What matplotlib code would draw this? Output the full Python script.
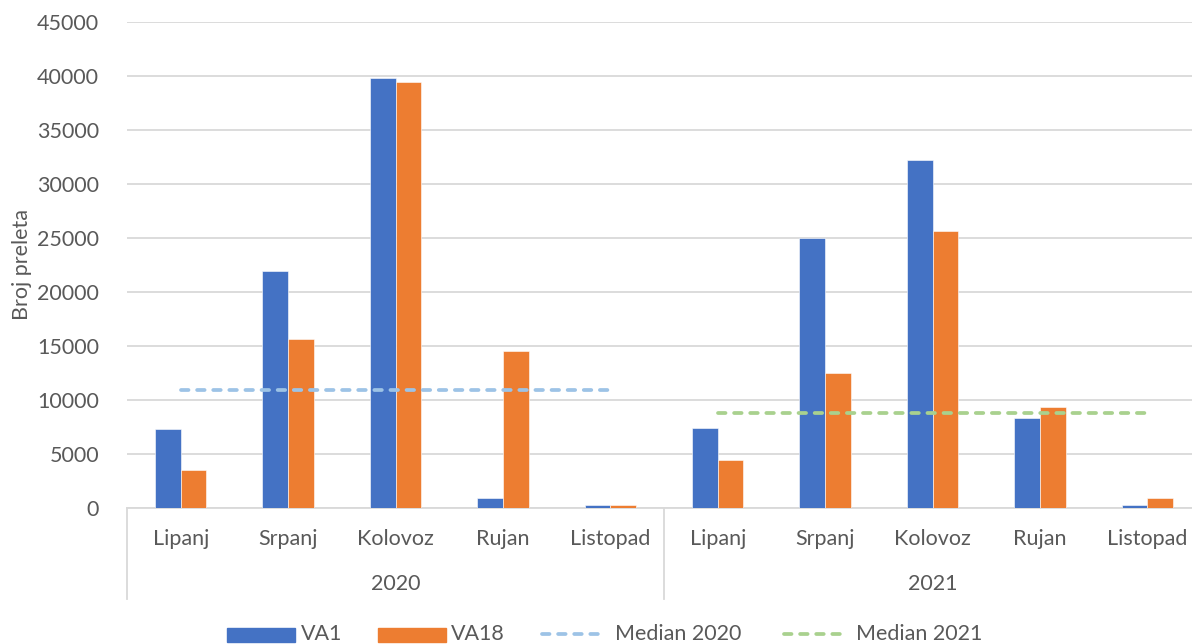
import numpy as np
import matplotlib
matplotlib.use("Agg")
import matplotlib.pyplot as plt
from matplotlib.patches import Rectangle
from matplotlib.lines import Line2D
from matplotlib.transforms import blended_transform_factory

# Monthly counts per site, June-October of 2020 and 2021
months = ["Lipanj", "Srpanj", "Kolovoz", "Rujan", "Listopad"]
years = ["2020", "2021"]
va1_2020 = [7350, 21950, 39800, 950, 250]
va18_2020 = [3550, 15650, 39450, 14500, 250]
va1_2021 = [7450, 25000, 32200, 8300, 250]
va18_2021 = [4450, 12500, 25650, 9350, 900]

va1 = va1_2020 + va1_2021
va18 = va18_2020 + va18_2021
median_2020 = float(np.median(va1_2020 + va18_2020))
median_2021 = float(np.median(va1_2021 + va18_2021))

BLUE = "#4472C4"
ORANGE = "#ED7D31"
MED20 = "#9DC3E6"
MED21 = "#A9D18E"
GRID = "#D9D9D9"
TXT = "#595959"
FONT = "Lato"
FS = 15.5

plt.rcParams["font.family"] = [FONT, "DejaVu Sans"]
plt.rcParams["lines.scale_dashes"] = False

W, H = 1192, 644
fig = plt.figure(figsize=(W / 100, H / 100), dpi=100)
ax = fig.add_axes([127 / W, (H - 508) / H, (1201 - 127) / W, (508 - 22) / H])

x = np.arange(len(va1))
bw = 0.24
ax.bar(x - bw / 2, va1, width=bw, color=BLUE, edgecolor="white", linewidth=0.4, zorder=3)
ax.bar(x + bw / 2, va18, width=bw, color=ORANGE, edgecolor="white", linewidth=0.4, zorder=3)

dash = (5.4, 6.2)
ax.plot(x[:5], [median_2020] * 5, color=MED20, lw=2.7, dashes=dash,
        solid_capstyle="round", dash_capstyle="round", zorder=4)
ax.plot(x[5:], [median_2021] * 5, color=MED21, lw=2.7, dashes=dash,
        solid_capstyle="round", dash_capstyle="round", zorder=4)

ax.set_xlim(-0.5, 9.5)
ax.set_ylim(0, 45000)
ax.set_yticks(np.arange(0, 45001, 5000))
ax.set_yticklabels([str(v) for v in range(0, 45001, 5000)], fontsize=FS, color=TXT)
ax.tick_params(axis="y", length=0, pad=20)
ax.yaxis.grid(True, color=GRID, lw=1.3, zorder=0)
ax.set_axisbelow(True)

ax.set_xticks(x)
ax.set_xticklabels(months * 2, fontsize=FS, color=TXT)
ax.tick_params(axis="x", length=0, pad=15)

for s in ["top", "right", "left"]:
    ax.spines[s].set_visible(False)
ax.spines["bottom"].set_color(GRID)
ax.spines["bottom"].set_linewidth(1.3)

ax.set_ylabel("Broj preleta", fontsize=FS, color=TXT)
ax.yaxis.set_label_coords((32 - 127) / (1201 - 127), 0.5)

# Two-level category axis: year labels and separators
tr = blended_transform_factory(ax.transData, ax.transAxes)
ydrop = -(599 - 508) / (508 - 22)
for xv in [-0.5, 4.5, 9.5]:
    ax.plot([xv, xv], [0, ydrop], transform=tr, color=GRID, lw=1.3, clip_on=False)
for i, yr in enumerate(years):
    ax.text(2 + 5 * i, -(584 - 508) / (508 - 22), yr, transform=tr,
            ha="center", va="center", fontsize=FS, color=TXT)

# Legend row along the bottom edge
def fx(px):
    return px / W

def fy(py):
    return (H - py) / H

ly = 634
fig.patches.append(Rectangle((fx(227), fy(642)), fx(295) - fx(227), fy(628) - fy(642),
                             transform=fig.transFigure, color=BLUE))
fig.text(fx(301), fy(ly), "VA1", fontsize=FS, color=TXT, va="center", ha="left")
fig.patches.append(Rectangle((fx(378), fy(642)), fx(446) - fx(378), fy(628) - fy(642),
                             transform=fig.transFigure, color=ORANGE))
fig.text(fx(451), fy(ly), "VA18", fontsize=FS, color=TXT, va="center", ha="left")
for x0, x1, tx, col, lab in [(540, 608, 615, MED20, "Median 2020"),
                             (782, 849, 856, MED21, "Median 2021")]:
    fig.lines.append(Line2D([fx(x0 + 2), fx(x1 - 2)], [fy(ly), fy(ly)], transform=fig.transFigure,
                            color=col, lw=2.7, dashes=dash, dash_capstyle="round"))
    fig.text(fx(tx), fy(ly), lab, fontsize=FS, color=TXT, va="center", ha="left")

fig.savefig("out.png", dpi=100)
